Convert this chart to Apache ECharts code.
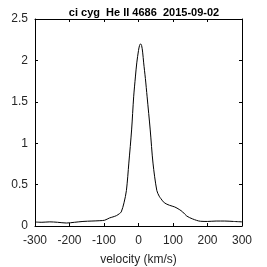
<!DOCTYPE html>
<html><head><meta charset="utf-8">
<script src="https://cdn.jsdelivr.net/npm/echarts@6/dist/echarts.min.js"></script>
<style>html,body{margin:0;padding:0;background:#fff}#c{width:267px;height:267px}</style>
</head><body><div id="c"></div>
<script>
var velocity = [-300,-280,-257,-235,-209,-185,-161,-135,-112,-98,-84,-74,-64,-55,-50,-42,-35,-28,-20,-14,-9,-5,0,3,6,9,12,15,20,25,34,42,53,60,65,75,90,105,118,128,140,157,180,200,225,250,275,300];
var flux = [0.048,0.045,0.05,0.045,0.036,0.045,0.055,0.06,0.064,0.07,0.097,0.11,0.125,0.15,0.17,0.28,0.43,0.76,1.16,1.56,1.8,1.97,2.12,2.18,2.2,2.18,2.1,1.97,1.78,1.56,1.16,0.76,0.43,0.36,0.33,0.28,0.25,0.23,0.2,0.17,0.12,0.085,0.057,0.055,0.06,0.06,0.055,0.05];
var xTicks = [-300,-200,-100,0,100,200,300];
var yTicks = [0,0.5,1,1.5,2,2.5];
var data = velocity.map(function(v,i){return [v, flux[i]];});
var chart = echarts.init(document.getElementById('c'));
var font = 'Liberation Sans, Arial, sans-serif';
var tickStyle = {show:true, inside:true, length:3, lineStyle:{color:'#000', width:1}};
var lineStyle = {show:true, onZero:false, lineStyle:{color:'#000', width:1}};
chart.setOption({
  animation:false,
  title:{text:'ci cyg  He II 4686  2015-09-02', left:139, top:2, textAlign:'center',
    textStyle:{fontFamily:font, fontSize:11, fontWeight:'bold', color:'#000'}},
  grid:{left:35, right:25, top:19, bottom:41, containLabel:false, outerBoundsMode:'none'},
  xAxis:[
    {type:'value', min:-300, max:300, interval:100, position:'bottom',
     name:'velocity (km/s)', nameLocation:'middle', nameGap:28,
     nameTextStyle:{fontFamily:font, fontSize:12, color:'#262626'},
     axisLine:lineStyle, axisTick:tickStyle, splitLine:{show:false},
     axisLabel:{fontFamily:font, fontSize:12, color:'#262626', margin:9}},
    {type:'value', min:-300, max:300, interval:100, position:'top',
     axisLine:lineStyle, axisTick:tickStyle, splitLine:{show:false}, axisLabel:{show:false}}
  ],
  yAxis:[
    {type:'value', min:0, max:2.5, interval:0.5, position:'left',
     axisLine:lineStyle, axisTick:tickStyle, splitLine:{show:false},
     axisLabel:{fontFamily:font, fontSize:12, color:'#262626', margin:7}},
    {type:'value', min:0, max:2.5, interval:0.5, position:'right',
     axisLine:lineStyle, axisTick:tickStyle, splitLine:{show:false}, axisLabel:{show:false}}
  ],
  series:[{type:'line', data:data, smooth:0.3, showSymbol:false, symbol:'none',
    lineStyle:{color:'#000', width:1}}]
});
</script></body></html>
